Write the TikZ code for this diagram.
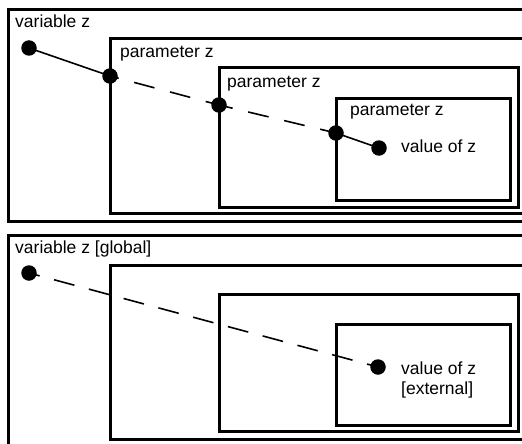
\documentclass[tikz,border=0pt]{standalone}
\usepackage{fontspec}
\setmainfont{Liberation Sans}
\begin{document}
\begin{tikzpicture}[x=1pt,y=-1pt,
  frame/.style={draw=black,line width=3pt},
  dot/.style={circle,fill=black,inner sep=0pt,minimum size=15.5pt},
  lbl/.style={anchor=base west,inner sep=0pt,font=\fontsize{17.5}{20}\selectfont},
  solidconn/.style={draw=black,line width=1.6pt},
  dashconn/.style={draw=black,line width=1.6pt,dash pattern=on 21pt off 16pt}]
\clip (0,0) rectangle (522,444);
\fill[white] (0,0) rectangle (522,444);
% top panel
\draw[frame] (8,10) rectangle (540,221);
\draw[frame] (110,39) rectangle (540,213);
\draw[frame] (219,68) rectangle (518,207);
\draw[frame] (336,98) rectangle (510,200);
\node[lbl] (t1) at (15,28) {variable z};
\node[lbl] (t2) at (120,58) {parameter z};
\node[lbl] (t3) at (227,87) {parameter z};
\node[lbl] (t4) at (350,115) {parameter z};
\node[lbl] (t5) at (401,152) {value of z};
\node[dot] (d1) at (29,48) {};
\node[dot] (d2) at (110,76) {};
\node[dot] (d3) at (219,105) {};
\node[dot] (d4) at (336,133) {};
\node[dot] (d5) at (379,148) {};
\draw[solidconn] (d1.center) -- (d2.center);
\draw[dashconn,dash phase=12pt] (d2.center) -- (d3.center);
\draw[dashconn,dash phase=7pt] (d3.center) -- (d4.center);
\draw[solidconn] (d4.center) -- (d5.center);
% bottom panel
\draw[frame] (8,235) rectangle (540,470);
\draw[frame] (110,265) rectangle (540,439);
\draw[frame] (219,294) rectangle (518,431);
\draw[frame] (336,324) rectangle (510,425);
\node[lbl] (u1) at (15,253) {variable z [global]};
\node[lbl] (u5) at (401,374) {value of z};
\node[lbl] (u6) at (401,394) {[external]};
\node[dot] (b1) at (29,273) {};
\node[dot] (b2) at (378,367) {};
\draw[line width=1.6pt,dash pattern=on 21pt off 15pt,dash phase=10pt] (b1.center) -- (b2.center);
\end{tikzpicture}
\end{document}
